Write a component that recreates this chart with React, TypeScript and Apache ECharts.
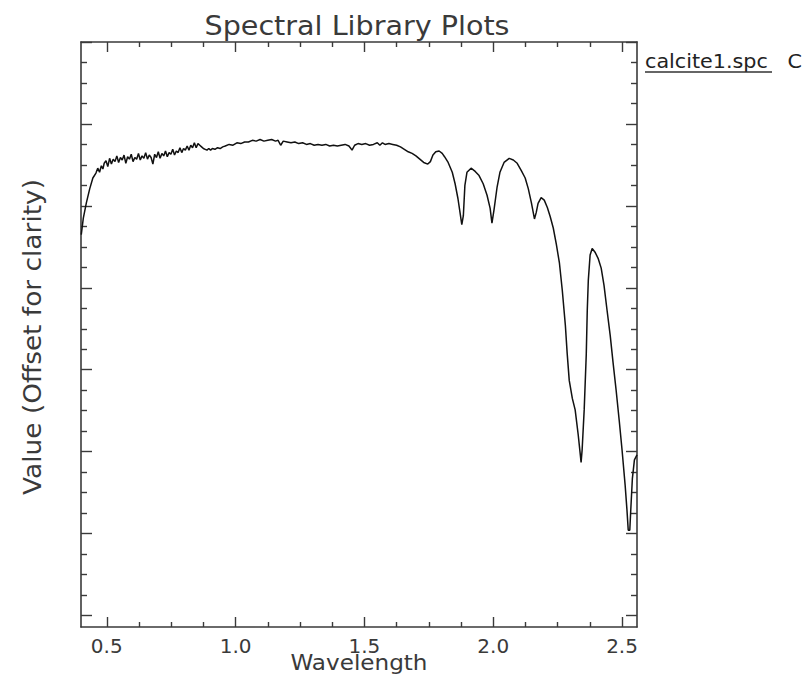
import React, { useEffect, useRef } from "react";
import * as echarts from "echarts";

// Calcite reflectance spectrum (wavelength in micrometres)
const WAVELENGTH = [
  0.401, 0.409, 0.421, 0.434, 0.446, 0.458, 0.465, 0.472, 0.479, 0.485,
  0.490, 0.497, 0.504, 0.511, 0.518, 0.525, 0.532, 0.539, 0.546, 0.553,
  0.560, 0.567, 0.574, 0.581, 0.588, 0.595, 0.602, 0.609, 0.616, 0.623,
  0.630, 0.637, 0.644, 0.651, 0.658, 0.665, 0.672, 0.679, 0.686, 0.693,
  0.700, 0.707, 0.714, 0.721, 0.728, 0.735, 0.742, 0.749, 0.756, 0.763,
  0.770, 0.777, 0.784, 0.791, 0.798, 0.805, 0.812, 0.819, 0.826, 0.833,
  0.840, 0.847, 0.854, 0.861, 0.868, 0.875, 0.882, 0.889, 0.896, 0.903,
  0.910, 0.920, 0.930, 0.940, 0.950, 0.960, 0.975, 0.990, 1.005, 1.020,
  1.035, 1.050, 1.065, 1.080, 1.095, 1.110, 1.125, 1.140, 1.155, 1.165,
  1.175, 1.185, 1.200, 1.215, 1.230, 1.245, 1.260, 1.275, 1.290, 1.305,
  1.320, 1.335, 1.350, 1.365, 1.380, 1.395, 1.410, 1.425, 1.440, 1.452,
  1.462, 1.475, 1.490, 1.505, 1.520, 1.535, 1.550, 1.560, 1.570, 1.580,
  1.595, 1.610, 1.625, 1.640, 1.655, 1.670, 1.685, 1.700, 1.715, 1.730,
  1.746, 1.756, 1.766, 1.777, 1.790, 1.802, 1.811, 1.825, 1.841, 1.852,
  1.863, 1.871, 1.878, 1.884, 1.890, 1.898, 1.914, 1.930, 1.945, 1.961,
  1.976, 1.988, 1.995, 2.003, 2.015, 2.026, 2.042, 2.062, 2.078, 2.093,
  2.109, 2.124, 2.136, 2.148, 2.160, 2.167, 2.174, 2.186, 2.198, 2.210,
  2.221, 2.233, 2.245, 2.257, 2.268, 2.280, 2.287, 2.295, 2.307, 2.318,
  2.330, 2.338, 2.341, 2.345, 2.353, 2.361, 2.365, 2.369, 2.376, 2.384,
  2.396, 2.407, 2.419, 2.430, 2.442, 2.454, 2.465, 2.477, 2.489, 2.500,
  2.512, 2.519, 2.524, 2.530, 2.534, 2.540, 2.548, 2.558,
];

const REFLECTANCE = [
  0.765, 0.785, 0.804, 0.821, 0.834, 0.840, 0.846, 0.841, 0.849, 0.845,
  0.852, 0.855, 0.848, 0.858, 0.851, 0.857, 0.854, 0.861, 0.853, 0.859,
  0.856, 0.862, 0.852, 0.860, 0.857, 0.863, 0.854, 0.859, 0.857, 0.864,
  0.856, 0.861, 0.858, 0.865, 0.857, 0.862, 0.859, 0.851, 0.863, 0.859,
  0.866, 0.858, 0.864, 0.861, 0.867, 0.860, 0.865, 0.863, 0.869, 0.862,
  0.867, 0.865, 0.871, 0.865, 0.870, 0.868, 0.873, 0.868, 0.874, 0.871,
  0.877, 0.871, 0.876, 0.874, 0.872, 0.870, 0.869, 0.868, 0.870, 0.868,
  0.870, 0.869, 0.871, 0.870, 0.872, 0.873, 0.875, 0.874, 0.877, 0.876,
  0.878, 0.878, 0.880, 0.879, 0.881, 0.879, 0.880, 0.881, 0.879, 0.880,
  0.874, 0.879, 0.878, 0.877, 0.878, 0.876, 0.877, 0.875, 0.876, 0.874,
  0.875, 0.874, 0.875, 0.873, 0.874, 0.873, 0.874, 0.875, 0.873, 0.868,
  0.874, 0.876, 0.875, 0.876, 0.874, 0.875, 0.877, 0.874, 0.877, 0.875,
  0.876, 0.875, 0.874, 0.872, 0.869, 0.866, 0.864, 0.861, 0.857, 0.853,
  0.851, 0.854, 0.862, 0.866, 0.867, 0.864, 0.860, 0.853, 0.841, 0.827,
  0.809, 0.792, 0.777, 0.788, 0.825, 0.841, 0.846, 0.842, 0.837, 0.827,
  0.813, 0.797, 0.779, 0.795, 0.823, 0.841, 0.853, 0.858, 0.856, 0.852,
  0.843, 0.834, 0.821, 0.804, 0.784, 0.792, 0.803, 0.810, 0.807, 0.798,
  0.787, 0.773, 0.753, 0.730, 0.697, 0.654, 0.620, 0.587, 0.565, 0.551,
  0.520, 0.496, 0.487, 0.502, 0.551, 0.618, 0.673, 0.709, 0.740, 0.748,
  0.743, 0.736, 0.724, 0.703, 0.672, 0.642, 0.609, 0.575, 0.538, 0.502,
  0.459, 0.429, 0.404, 0.404, 0.430, 0.467, 0.490, 0.496,
];

// Axis extents and tick positions
const X_MIN = 0.4;
const X_MAX = 2.558;
const X_MAJOR_TICKS = [0.5, 1.0, 1.5, 2.0, 2.5];
const X_MINOR_TICKS = [
  0.625, 0.75, 0.875, 1.125, 1.25, 1.375, 1.625, 1.75, 1.875, 2.125, 2.25, 2.375,
];
const Y_MIN = 0.286;
const Y_MAX = 1.0;
const Y_MAJOR_TICKS = [0.3, 0.4, 0.5, 0.6, 0.7, 0.8, 0.9, 1.0];
const Y_MINOR_TICKS = [
  0.325, 0.35, 0.375, 0.425, 0.45, 0.475, 0.525, 0.55, 0.575, 0.625, 0.65, 0.675,
  0.725, 0.75, 0.775, 0.825, 0.85, 0.875, 0.925, 0.95, 0.975,
];

const TITLE = "Spectral Library Plots";
const X_NAME = "Wavelength";
const Y_NAME = "Value (Offset for clarity)";
const SPECTRUM_NAME = "calcite1.spc   C";

const FONT = "DejaVu Sans";
const INK = "#3a3a3a";

export default function App() {
  const ref = useRef<HTMLDivElement>(null);

  useEffect(() => {
    if (!ref.current) return;
    const chart = echarts.init(ref.current, null, { renderer: "svg" });

    const tickStyle = { color: INK, width: 1.4 };

    const xAxisAt = (position: string, major: boolean, withLabels: boolean) => ({
      type: "value",
      position,
      min: X_MIN,
      max: X_MAX,
      axisLine: { show: major, onZero: false, lineStyle: { color: INK, width: 1.6 } },
      axisTick: {
        show: true,
        inside: true,
        length: major ? 10 : 5,
        customValues: major ? X_MAJOR_TICKS : X_MINOR_TICKS,
        lineStyle: tickStyle,
      },
      axisLabel: withLabels
        ? {
            show: true,
            margin: 9,
            color: INK,
            fontFamily: FONT,
            fontSize: 20,
            customValues: X_MAJOR_TICKS,
            formatter: (v: number) => v.toFixed(1),
          }
        : { show: false },
      splitLine: { show: false },
    });

    const yAxisAt = (position: string, major: boolean) => ({
      type: "value",
      position,
      min: Y_MIN,
      max: Y_MAX,
      axisLine: { show: major, onZero: false, lineStyle: { color: INK, width: 1.6 } },
      axisTick: {
        show: true,
        inside: true,
        length: major ? 11 : 6,
        customValues: major ? Y_MAJOR_TICKS : Y_MINOR_TICKS,
        lineStyle: tickStyle,
      },
      axisLabel: { show: false },
      splitLine: { show: false },
    });

    chart.setOption({
      animation: false,
      backgroundColor: "#ffffff",
      grid: { left: 81, right: 165, top: 42, bottom: 55, containLabel: false },
      xAxis: [
        xAxisAt("bottom", true, true),
        xAxisAt("bottom", false, false),
        xAxisAt("top", true, false),
        xAxisAt("top", false, false),
      ],
      yAxis: [
        yAxisAt("left", true),
        yAxisAt("left", false),
        yAxisAt("right", true),
        yAxisAt("right", false),
      ],
      series: [
        {
          type: "line",
          name: SPECTRUM_NAME,
          xAxisIndex: 0,
          yAxisIndex: 0,
          data: WAVELENGTH.map((w, i) => [w, REFLECTANCE[i]]),
          showSymbol: false,
          symbol: "none",
          clip: true,
          lineStyle: { color: "#111111", width: 1.5 },
        },
      ],
      graphic: [
        {
          type: "text",
          x: 357,
          y: 26,
          scaleX: 1.1,
          style: {
            text: TITLE,
            fill: INK,
            font: `26px "${FONT}"`,
            textAlign: "center",
            textVerticalAlign: "middle",
          },
        },
        {
          type: "text",
          x: 359,
          y: 663,
          scaleX: 1.1,
          style: {
            text: X_NAME,
            fill: INK,
            font: `21px "${FONT}"`,
            textAlign: "center",
            textVerticalAlign: "middle",
          },
        },
        {
          type: "text",
          x: 33,
          y: 337,
          rotation: Math.PI / 2,
          scaleX: 1.1,
          style: {
            text: Y_NAME,
            fill: INK,
            font: `24px "${FONT}"`,
            textAlign: "center",
            textVerticalAlign: "middle",
          },
        },
        {
          type: "text",
          x: 645,
          y: 62,
          scaleX: 1.09,
          style: {
            text: SPECTRUM_NAME,
            fill: "#222222",
            font: `19px "${FONT}"`,
            textAlign: "left",
            textVerticalAlign: "middle",
          },
        },
        {
          type: "line",
          shape: { x1: 645, y1: 72, x2: 772, y2: 72 },
          style: { stroke: "#333333", lineWidth: 1.4 },
        },
      ],
    });

    return () => chart.dispose();
  }, []);

  return (
    <div
      ref={ref}
      style={{ position: "fixed", left: 0, top: 0, width: 802, height: 682, background: "#ffffff" }}
    />
  );
}
